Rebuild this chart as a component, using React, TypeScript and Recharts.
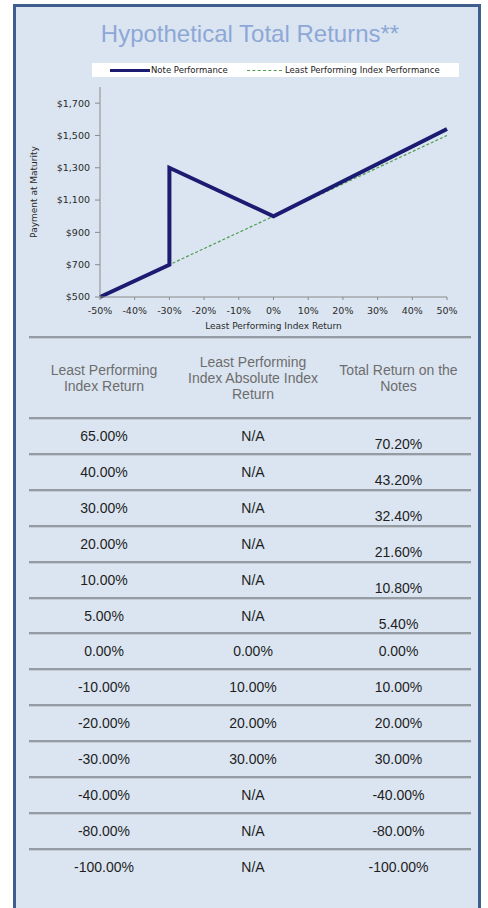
import { LineChart, Line, XAxis, YAxis } from 'recharts';

// chart values
const noteX = [-50, -30, -30, 0, 50];
const noteY = [500, 700, 1300, 1000, 1540];
const indexX = [-50, 50];
const indexY = [500, 1500];
const xTicks = [-50, -40, -30, -20, -10, 0, 10, 20, 30, 40, 50];
const yTicks = [500, 700, 900, 1100, 1300, 1500, 1700];

// table values
const headers = [
  ['Least Performing', 'Index Return'],
  ['Least Performing', 'Index Absolute Index', 'Return'],
  ['Total Return on the', 'Notes'],
];
const indexReturn = ['65.00%', '40.00%', '30.00%', '20.00%', '10.00%', '5.00%', '0.00%', '-10.00%', '-20.00%', '-30.00%', '-40.00%', '-80.00%', '-100.00%'];
const absReturn = ['N/A', 'N/A', 'N/A', 'N/A', 'N/A', 'N/A', '0.00%', '10.00%', '20.00%', '30.00%', 'N/A', 'N/A', 'N/A'];
const noteReturn = ['70.20%', '43.20%', '32.40%', '21.60%', '10.80%', '5.40%', '0.00%', '10.00%', '20.00%', '30.00%', '-40.00%', '-80.00%', '-100.00%'];

const noteData = noteX.map((x, i) => ({ x, y: noteY[i] }));
const indexData = indexX.map((x, i) => ({ x, y: indexY[i] }));

const fmtDollar = (v: number) =>
  v >= 1000 ? `$${Math.floor(v / 1000)},${String(v % 1000).padStart(3, '0')}` : `$${v}`;

const tickFont = { fontFamily: 'DejaVu Sans', fontSize: 9.5, fill: '#2a2a2a' };

const colLeft = [29, 178, 327];
const colWidth = [150, 150, 143];
const ROW_TOP = 418;
const ROW_H = 35.9;

const Rule = ({ y }: { y: number }) => (
  <div style={{ position: 'absolute', left: 29, top: y - 1, width: 442 }}>
    <div style={{ height: 2, background: '#959ba3' }} />
    <div style={{ height: 1, background: '#c4cbd5' }} />
  </div>
);

export default function App() {
  const cols = [indexReturn, absReturn, noteReturn];
  return (
    <div style={{ position: 'absolute', left: 0, top: 0, width: 488, height: 908, overflow: 'hidden', background: '#fff' }}>
      <div
        style={{
          position: 'absolute', left: 13, top: 4, width: 468, height: 930,
          border: '3px solid #3f5e8d', boxSizing: 'border-box', background: '#dbe5f1',
        }}
      />
      <div
        style={{
          position: 'absolute', left: 0, top: 22, width: 500, textAlign: 'center',
          fontFamily: 'Liberation Sans', fontSize: 24, lineHeight: '24px', color: '#8da8d6',
        }}
      >
        Hypothetical Total Returns**
      </div>

      <div style={{ position: 'absolute', left: 92, top: 63, width: 367, height: 14, background: '#fff' }}>
        <div style={{ position: 'absolute', left: 18, top: 5.5, width: 40, height: 3, background: '#1b1b72' }} />
        <div style={{ position: 'absolute', left: 59, top: 0, fontFamily: 'DejaVu Sans', fontSize: 8.5, lineHeight: '14px', color: '#222' }}>
          Note Performance
        </div>
        <div style={{ position: 'absolute', left: 155, top: 6.5, width: 35, height: 0, borderTop: '1px dashed #4d9e4d' }} />
        <div style={{ position: 'absolute', left: 193, top: 0, fontFamily: 'DejaVu Sans', fontSize: 8.5, lineHeight: '14px', color: '#222' }}>
          Least Performing Index Performance
        </div>
      </div>

      <div style={{ position: 'absolute', left: 0, top: 0 }}>
        <LineChart width={488} height={340} margin={{ top: 87, right: 41, left: 34, bottom: 11 }}>
          <XAxis
            type="number"
            dataKey="x"
            domain={[-50, 50]}
            ticks={xTicks}
            tickFormatter={(v: number) => `${v}%`}
            tick={tickFont}
            stroke="#8a8a8a"
            tickSize={3}
            tickMargin={7}
            height={32}
            allowDuplicatedCategory={false}
            label={{ value: 'Least Performing Index Return', position: 'insideBottom', offset: 0, style: { fontFamily: 'DejaVu Sans', fontSize: 9, fill: '#2a2a2a' } }}
          />
          <YAxis
            type="number"
            dataKey="y"
            domain={[500, 1800]}
            ticks={yTicks}
            tickFormatter={fmtDollar}
            tick={tickFont}
            stroke="#8a8a8a"
            tickSize={5}
            tickMargin={5}
            width={66}
            label={{ value: 'Payment at Maturity', angle: -90, position: 'insideLeft', offset: 0, style: { textAnchor: 'middle', fontFamily: 'DejaVu Sans', fontSize: 9, fill: '#2a2a2a' } }}
          />
          <Line
            data={indexData}
            dataKey="y"
            type="linear"
            stroke="#4d9e4d"
            strokeWidth={1.2}
            strokeDasharray="3 2"
            dot={false}
            activeDot={false}
            isAnimationActive={false}
          />
          <Line
            data={noteData}
            dataKey="y"
            type="linear"
            stroke="#1b1b72"
            strokeWidth={4}
            dot={false}
            activeDot={false}
            isAnimationActive={false}
          />
        </LineChart>
      </div>

      <Rule y={337} />
      {headers.map((lines, c) => (
        <div
          key={'h' + c}
          style={{
            position: 'absolute', left: colLeft[c], width: colWidth[c], top: 337, height: 81,
            display: 'flex', flexDirection: 'column', justifyContent: 'center', alignItems: 'center',
            fontFamily: 'Liberation Sans', fontSize: 14, lineHeight: '16px', color: '#6d6d6d', textAlign: 'center',
          }}
        >
          {lines.map((t) => (
            <div key={t}>{t}</div>
          ))}
        </div>
      ))}

      {indexReturn.map((_, r) => (
        <div key={'r' + r}>
          <Rule y={ROW_TOP + r * ROW_H} />
          {cols.map((col, c) => (
            <div
              key={c}
              style={{
                position: 'absolute', left: colLeft[c], width: colWidth[c],
                top: ROW_TOP + r * ROW_H + 10 + (c === 2 && r < 6 ? 8 : 0), height: 16,
                fontFamily: 'Liberation Sans', fontSize: 14, lineHeight: '16px', color: '#1e1e1e', textAlign: 'center',
              }}
            >
              {col[r]}
            </div>
          ))}
        </div>
      ))}
    </div>
  );
}
